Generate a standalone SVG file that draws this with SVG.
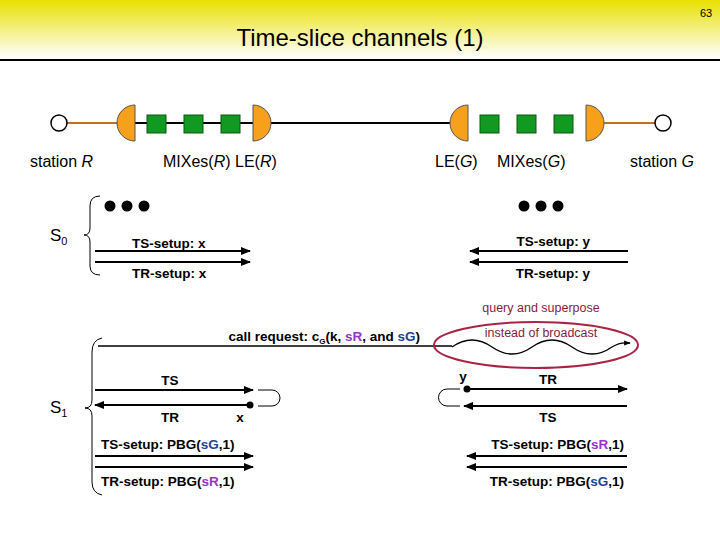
<svg xmlns="http://www.w3.org/2000/svg" width="720" height="540" viewBox="0 0 720 540">
<defs>
<linearGradient id="hg" x1="0" y1="0" x2="0" y2="1"><stop offset="0" stop-color="#e8e000"/><stop offset="1" stop-color="#ffffff"/></linearGradient>
<marker id="ah" viewBox="0 0 10 10" refX="9" refY="5" markerWidth="5" markerHeight="5" orient="auto"><path d="M0,1 L10,5 L0,9 z" fill="#000"/></marker>
<style>
text{font-family:"Liberation Sans",Arial,sans-serif;fill:#000}
.lb{font-size:13.5px;font-weight:bold}
.st{font-size:16px}
.ar{stroke:#000;stroke-width:2;fill:none;marker-end:url(#ah)}
.or{fill:#f7a01c;stroke:#555;stroke-width:1}
.gr{fill:#119922;stroke:#0a5a12;stroke-width:1}
.pu{fill:#9933cc}
.bl{fill:#1f3f99}
.br{fill:none;stroke:#000;stroke-width:1}
</style>
</defs>
<rect x="0" y="0" width="720" height="58" fill="url(#hg)"/>
<line x1="0" y1="60" x2="720" y2="60" stroke="#000" stroke-width="2"/>
<text x="706" y="17" font-size="11" text-anchor="middle">63</text>
<text x="360" y="46" font-size="24" text-anchor="middle">Time-slice channels (1)</text>

<g id="chainR">
<line x1="67" y1="123" x2="118" y2="123" stroke="#c07020" stroke-width="2"/>
<circle cx="59" cy="123" r="8" fill="#fff" stroke="#000" stroke-width="1.5"/>
<line x1="134" y1="123" x2="450" y2="123" stroke="#000" stroke-width="2"/>
<path class="or" d="M135,105 A18,18 0 0 0 135,141 Z"/>
<rect class="gr" x="147" y="115" width="19" height="18"/>
<rect class="gr" x="184" y="115" width="19" height="18"/>
<rect class="gr" x="221" y="115" width="19" height="18"/>
<path class="or" d="M253,105 A18,18 0 0 1 253,141 Z"/>
</g>
<g id="chainG">
<line x1="602" y1="123" x2="655" y2="123" stroke="#c07020" stroke-width="2"/>
<circle cx="663" cy="123" r="8" fill="#fff" stroke="#000" stroke-width="1.5"/>
<path class="or" d="M468,105 A18,18 0 0 0 468,141 Z"/>
<rect class="gr" x="480" y="115" width="19" height="18"/>
<rect class="gr" x="517" y="115" width="19" height="18"/>
<rect class="gr" x="554" y="115" width="19" height="18"/>
<path class="or" d="M586,105 A18,18 0 0 1 586,141 Z"/>
</g>
<g id="labels">
<text class="st" x="30" y="167">station <tspan font-style="italic">R</tspan></text>
<text class="st" x="163" y="167">MIXes(<tspan font-style="italic">R</tspan>)  LE(<tspan font-style="italic">R</tspan>)</text>
<text class="st" x="435" y="167">LE(<tspan font-style="italic">G</tspan>)</text>
<text class="st" x="497" y="167">MIXes(<tspan font-style="italic">G</tspan>)</text>
<text class="st" x="630" y="167">station <tspan font-style="italic">G</tspan></text>
</g>

<g id="s0">
<text x="50" y="241" font-size="17">S<tspan font-size="11" dy="4">0</tspan></text>
<path class="br" d="M100,196 Q90,196 90,206 L90,228 Q90,235 84,235 Q90,235 90,242 L90,266 Q90,275 100,275"/>
<circle cx="110" cy="206" r="5.5"/><circle cx="127" cy="206" r="5.5"/><circle cx="144" cy="206" r="5.5"/>
<circle cx="524" cy="206" r="5.5"/><circle cx="541" cy="206" r="5.5"/><circle cx="558" cy="206" r="5.5"/>
</g>

<g id="connectors">
<line class="ar" x1="95" y1="251" x2="250" y2="251"/>
<line class="ar" x1="95" y1="262" x2="250" y2="262"/>
<line class="ar" x1="628" y1="251" x2="470" y2="251"/>
<line class="ar" x1="628" y1="262" x2="470" y2="262"/>
<path d="M98,346 L452,346" stroke="#000" stroke-width="1.5" fill="none"/>
<path d="M452,347 q20,-14 40,0 q20,14 40,0 q20,-14 40,0 q20,14 40,0 q8,-5 16,-4 L630,343" stroke="#000" stroke-width="1.3" fill="none" marker-end="url(#ah)"/>
<line class="ar" x1="95" y1="390" x2="253" y2="390" stroke-width="3"/>
<line class="ar" x1="250" y1="405" x2="95" y2="405" stroke-width="3"/>
<circle cx="250" cy="405" r="3.5"/>
<path d="M258,390 L272,390 A8,8 0 0 1 272,406 L258,406" class="br" stroke-width="1.5"/>
<line class="ar" x1="467" y1="389" x2="627" y2="389" stroke-width="3"/>
<circle cx="467" cy="389" r="3.5"/>
<line class="ar" x1="627" y1="406" x2="464" y2="406" stroke-width="3"/>
<path d="M460,389 L447,389 A8,8 0 0 0 447,406 L460,406" class="br" stroke-width="1.5"/>
<line class="ar" x1="95" y1="456" x2="253" y2="456"/>
<line class="ar" x1="95" y1="467" x2="253" y2="467"/>
<line class="ar" x1="627" y1="456" x2="467" y2="456"/>
<line class="ar" x1="627" y1="467" x2="467" y2="467"/>
</g>

<g id="s1">
<text x="50" y="413" font-size="17">S<tspan font-size="11" dy="4">1</tspan></text>
<path class="br" d="M102,338 Q92,340 92,352 L92,400 Q92,408 85,408 Q92,408 92,416 L92,482 Q92,493 102,495"/>
<ellipse cx="536" cy="345" rx="102" ry="23" fill="none" stroke="#aa2244" stroke-width="2"/>
<text x="541" y="312" font-size="12.5" text-anchor="middle" style="fill:#8a1a40">query and superpose</text>
<text x="541" y="337" font-size="12.5" text-anchor="middle" style="fill:#8a1a40">instead of broadcast</text>
<text class="lb" x="420" y="341" text-anchor="end">call request: c<tspan font-size="8" dy="3">G</tspan><tspan dy="-3">(k, </tspan><tspan class="pu">sR</tspan>, and <tspan class="bl">sG</tspan>)</text>
<text class="lb" x="170" y="385" text-anchor="middle">TS</text>
<text class="lb" x="170" y="422" text-anchor="middle">TR</text>
<text class="lb" x="240" y="422" text-anchor="middle">x</text>
<text class="lb" x="463" y="381" text-anchor="middle">y</text>
<text class="lb" x="548" y="384" text-anchor="middle">TR</text>
<text class="lb" x="548" y="422" text-anchor="middle">TS</text>
<text class="lb" x="101" y="449">TS-setup: PBG(<tspan class="bl">sG</tspan>,1)</text>
<text class="lb" x="101" y="486">TR-setup: PBG(<tspan class="pu">sR</tspan>,1)</text>
<text class="lb" x="624" y="449" text-anchor="end">TS-setup: PBG(<tspan class="pu">sR</tspan>,1)</text>
<text class="lb" x="624" y="486" text-anchor="end">TR-setup: PBG(<tspan class="bl">sG</tspan>,1)</text>
<text class="lb" x="132" y="248">TS-setup: x</text>
<text class="lb" x="132" y="278">TR-setup: x</text>
<text class="lb" x="590" y="246" text-anchor="end">TS-setup: y</text>
<text class="lb" x="590" y="278" text-anchor="end">TR-setup: y</text>
</g>
</svg>
